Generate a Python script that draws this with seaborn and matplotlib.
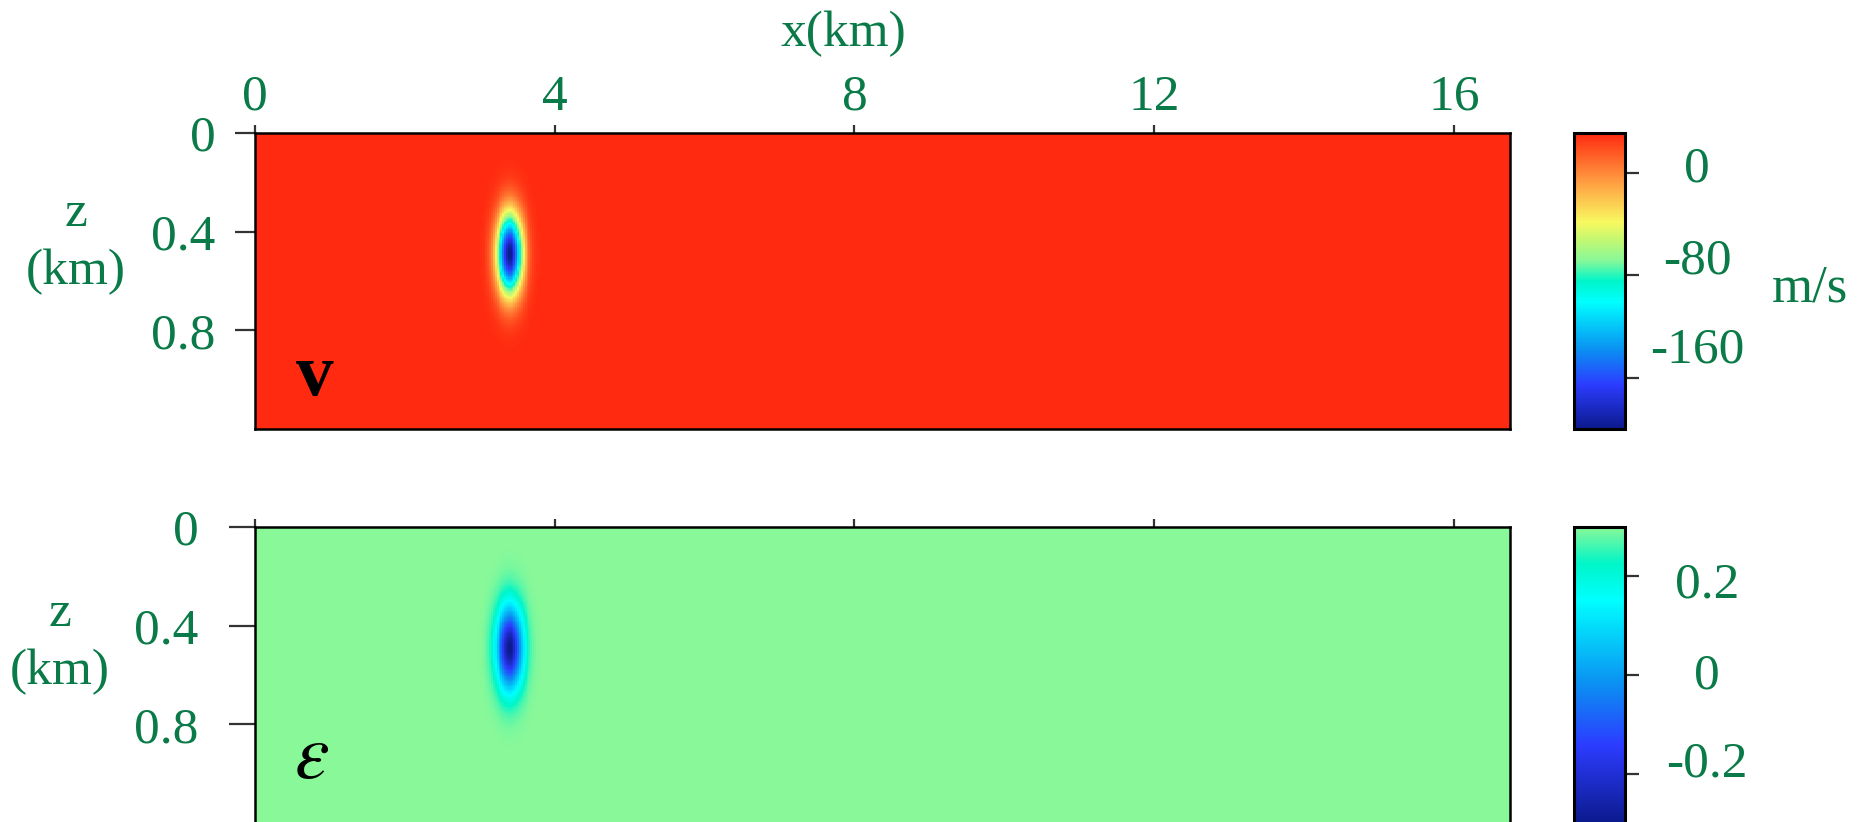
import numpy as np
import pandas as pd
import matplotlib
matplotlib.use("Agg")
import matplotlib.pyplot as plt
import seaborn as sns
from matplotlib.colors import LinearSegmentedColormap
from matplotlib.transforms import ScaledTranslation

# ---- model grid (km) ----
x_extent_km = 16.75
z_extent_km = 1.2
dx_km = 0.025
dz_km = 0.005

# ---- Gaussian anomaly embedded in a constant background ----
anomaly_x_km = 3.4
anomaly_z_km = 0.49
anomaly_sigma_x_km = 0.12
anomaly_sigma_z_km = 0.115

v_background = 31.0      # m/s
v_anomaly = -231.0       # m/s
eps_background = 0.3
eps_anomaly = -0.6

v_range = (-200.0, 31.0)
eps_range = (-0.3, 0.3)

# ---- axis / colorbar ticks ----
x_ticks_km = [0, 4, 8, 12, 16]
x_tick_labels = ["0", "4", "8", "12", "16"]
z_ticks_km = [0, 0.4, 0.8]
z_tick_labels = ["0", "0.4", "0.8"]
v_cbar_ticks = [0, -80, -160]
v_cbar_labels = ["0", "-80", "-160"]
eps_cbar_ticks = [0.2, 0, -0.2]
eps_cbar_labels = ["0.2", "0", "-0.2"]

# ---- colour map (jet-like, ending in red) ----
cmap_stops = [0.0, 0.15, 0.27, 0.43, 0.50, 0.57, 0.64, 0.70, 0.84, 1.0]
cmap_colors = ["#0b1a8c", "#2c3cff", "#0a92f2", "#00ffff", "#00f5c8",
               "#88f898", "#c4f870", "#f8f860", "#ff9a40", "#ff2a10"]
eps_cmap_top = 0.57

GREEN = "#0a7a48"
TICK_GREY = "#333333"
FS = 37

sns.set_theme(style="white")
plt.rcParams["font.family"] = ["Liberation Serif", "DejaVu Serif"]
plt.rcParams["mathtext.fontset"] = "stix"

cmap_v = LinearSegmentedColormap.from_list("vmap", list(zip(cmap_stops, cmap_colors)), N=512)
eps_pairs = [(s / eps_cmap_top, c) for s, c in zip(cmap_stops, cmap_colors) if s <= eps_cmap_top]
cmap_eps = LinearSegmentedColormap.from_list("epsmap", eps_pairs, N=512)

# fields sampled at cell centres
nx = int(round(x_extent_km / dx_km))
nz = int(round(z_extent_km / dz_km))
xc = (np.arange(nx) + 0.5) * dx_km
zc = (np.arange(nz) + 0.5) * dz_km
X, Z = np.meshgrid(xc, zc)
bump = np.exp(-((X - anomaly_x_km) ** 2 / (2 * anomaly_sigma_x_km ** 2)
                + (Z - anomaly_z_km) ** 2 / (2 * anomaly_sigma_z_km ** 2)))
v_field = pd.DataFrame(v_background + v_anomaly * bump)
eps_field = pd.DataFrame(eps_background + eps_anomaly * bump)

W, H = 1862, 822
fig = plt.figure(figsize=(W / 100, H / 100), dpi=100)


def rect(left, top, right, bottom):
    return [left / W, 1 - bottom / H, (right - left) / W, (bottom - top) / H]


ax_v = fig.add_axes(rect(255, 133, 1510, 429))
cax_v = fig.add_axes(rect(1574, 133, 1625, 429))
ax_e = fig.add_axes(rect(255, 527, 1510, 823))
cax_e = fig.add_axes(rect(1574, 527, 1625, 823))

sns.heatmap(v_field, ax=ax_v, cbar_ax=cax_v, cmap=cmap_v, vmin=v_range[0], vmax=v_range[1],
            xticklabels=False, yticklabels=False, rasterized=True)
sns.heatmap(eps_field, ax=ax_e, cbar_ax=cax_e, cmap=cmap_eps, vmin=eps_range[0], vmax=eps_range[1],
            xticklabels=False, yticklabels=False, rasterized=True)

for ax, ylen, ypad in [(ax_v, 14.5, 14), (ax_e, 18.5, 22)]:
    for sp in ax.spines.values():
        sp.set_visible(True)
        sp.set_color("black")
        sp.set_linewidth(1.8)
    ax.set_xticks([v / dx_km for v in x_ticks_km])
    ax.set_yticks([v / dz_km for v in z_ticks_km])
    ax.set_yticklabels(z_tick_labels)
    ax.tick_params(axis="x", top=True, bottom=False, direction="out", length=6,
                   width=1.6, color=TICK_GREY, labelcolor=GREEN, labelsize=FS, pad=3)
    ax.tick_params(axis="y", left=True, right=False, direction="out", length=ylen,
                   width=1.6, color=TICK_GREY, labelcolor=GREEN, labelsize=FS, pad=ypad)
    ax.set_ylabel("z\n(km)", rotation=0, color=GREEN, fontsize=FS, ha="center", va="center",
                  linespacing=1.32)

ax_v.set_xticklabels(x_tick_labels)
ax_v.tick_params(axis="x", labeltop=True, labelbottom=False)
ax_e.tick_params(axis="x", labeltop=False, labelbottom=False)
ax_v.xaxis.set_label_position("top")
ax_v.set_xlabel("x(km)", color=GREEN, fontsize=FS, va="center")
ax_v.xaxis.set_label_coords((843 - 255) / 1255, (429 - 34) / 296)

ax_v.yaxis.set_label_coords((76 - 255) / 1255, (429 - 243) / 296)
ax_e.yaxis.set_label_coords((60 - 255) / 1255, (823 - 643) / 296)

ax_v.text((315 - 255) / 1255, (429 - 377) / 296, "v", transform=ax_v.transAxes,
          fontsize=54, fontweight="bold", color="black", ha="center", va="center")
ax_e.text((312 - 255) / 1255, (823 - 759) / 296, r"$\varepsilon$", transform=ax_e.transAxes,
          fontsize=56, color="black", ha="center", va="center")

cb_v = ax_v.collections[0].colorbar
cb_e = ax_e.collections[0].colorbar
cb_v.set_ticks(v_cbar_ticks)
cb_v.set_ticklabels(v_cbar_labels)
cb_e.set_ticks(eps_cbar_ticks)
cb_e.set_ticklabels(eps_cbar_labels)
for cb, cax, pad in [(cb_v, cax_v, 42), (cb_e, cax_e, 49)]:
    cb.outline.set_linewidth(2.2)
    cb.outline.set_edgecolor("black")
    cax.tick_params(axis="y", right=True, left=False, direction="out", length=10, width=1.6,
                    color=TICK_GREY, labelcolor=GREEN, labelsize=FS, pad=pad)

cax_v.yaxis.set_label_position("right")
cax_v.set_ylabel("m/s", rotation=0, color=GREEN, fontsize=FS + 1)
cax_v.yaxis.label.set_verticalalignment("center")
cax_v.yaxis.label.set_horizontalalignment("center")
cax_v.yaxis.set_label_coords((1810 - 1574) / 51, (429 - 288) / 296)

fig.canvas.draw()

# centre the colorbar labels and nudge them vertically (pixels, up positive)
for cax in (cax_v, cax_e):
    for lab in cax.get_yticklabels():
        lab.set_horizontalalignment("center")

label_shifts = [
    (cax_v, [8.5, 19.0, 32.5]),
    (cax_e, [-3.0, 4.7, 14.5]),
]
for ax, shifts in label_shifts:
    for tick, dy in zip(ax.yaxis.get_major_ticks(), shifts):
        for lab in (tick.label1, tick.label2):
            lab.set_transform(lab.get_transform() + ScaledTranslation(0, dy / 100, fig.dpi_scale_trans))

fig.savefig("out.png", dpi=100, facecolor="white")
